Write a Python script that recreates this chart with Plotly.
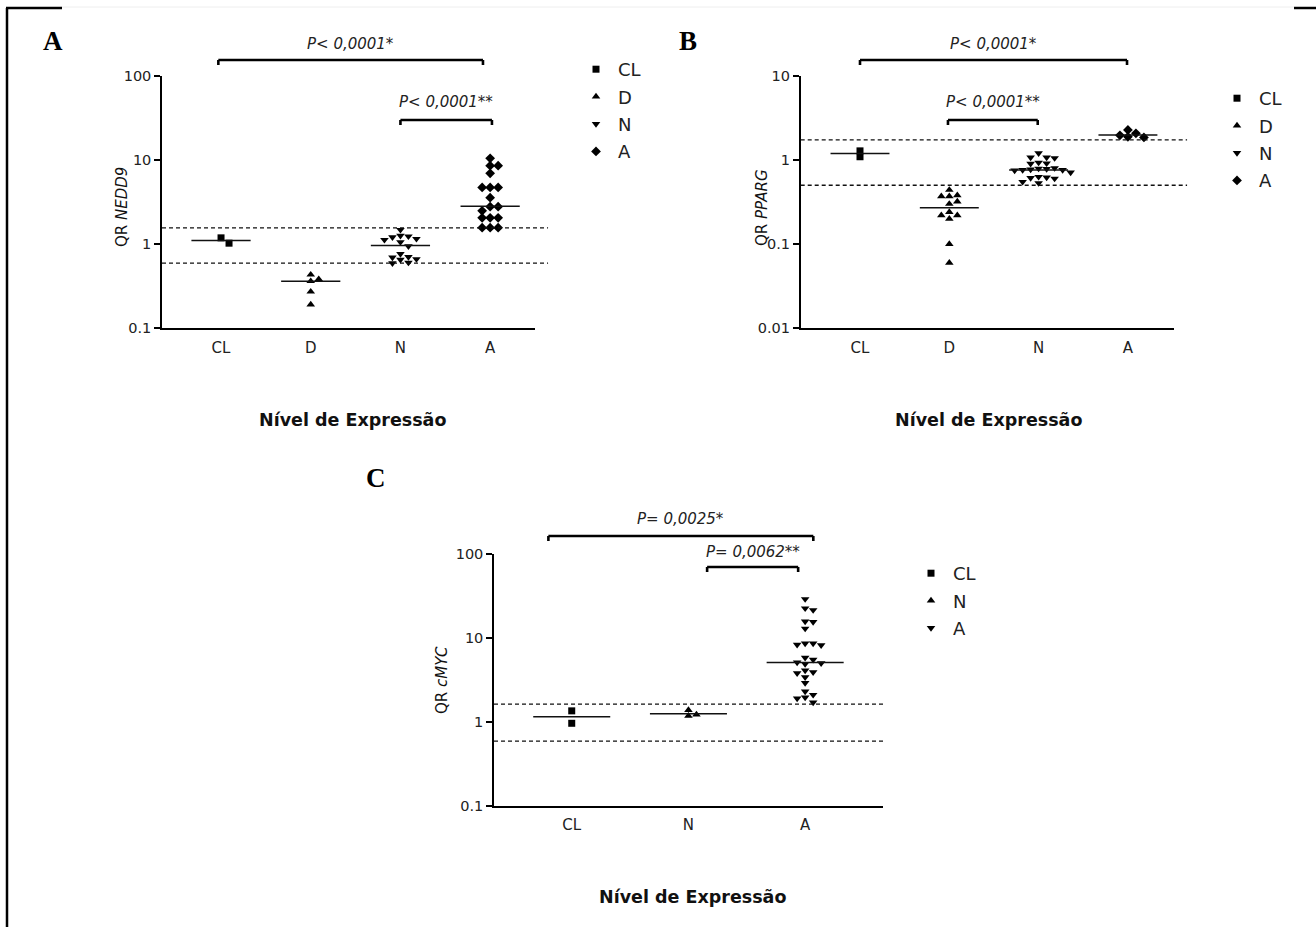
import numpy as np
import plotly.graph_objects as go

W, H = 1316, 927

# ---------------- data ----------------
# Panel A : QR NEDD9
a_cats = ["CL", "D", "N", "A"]
a_CL = [1.02, 1.18]
a_D = [0.43, 0.38, 0.36, 0.27, 0.19]
a_N = [1.47, 1.25, 1.23, 1.20, 1.15, 1.12, 1.05, 0.94, 0.76, 0.70, 0.69, 0.66, 0.65, 0.60, 0.59]
a_A = [10.4, 8.5, 8.5, 6.9, 4.7, 4.7, 4.7, 3.55, 2.77, 2.77, 2.47, 2.04, 2.04, 2.04, 1.56, 1.56, 1.56]
a_medians = [1.10, 0.36, 0.96, 2.80]
a_cutoffs = [1.55, 0.59]
a_ticks = [0.1, 1, 10, 100]
a_ticktext = ["0.1", "1", "10", "100"]

# Panel B : QR PPARG
b_cats = ["CL", "D", "N", "A"]
b_CL = [1.09, 1.28]
b_D = [0.44, 0.38, 0.37, 0.37, 0.32, 0.30, 0.24, 0.22, 0.22, 0.20, 0.10, 0.06]
b_N = [1.20, 1.07, 1.07, 1.05, 0.93, 0.91, 0.90, 0.80, 0.79, 0.78, 0.77, 0.76, 0.76, 0.75,
       0.71, 0.63, 0.62, 0.61, 0.60, 0.55, 0.53]
b_A = [2.27, 2.07, 1.96, 1.88, 1.85]
b_medians = [1.19, 0.27, 0.76, 1.98]
b_cutoffs = [1.73, 0.50]
b_ticks = [0.01, 0.1, 1, 10]
b_ticktext = ["0.01", "0.1", "1", "10"]

# Panel C : QR cMYC
c_cats = ["CL", "N", "A"]
c_CL = [1.35, 0.96]
c_N = [1.38, 1.22, 1.18]
c_A = [29, 22.5, 21.5, 15.7, 15.5, 12.9, 8.6, 8.6, 8.3, 8.2, 5.8, 5.5, 5.1, 5.0, 4.9,
       4.1, 3.9, 3.8, 3.4, 2.9, 2.3, 2.1, 1.95, 1.9, 1.7]
c_medians = [1.15, 1.25, 5.1]
c_cutoffs = [1.62, 0.59]
c_ticks = [0.1, 1, 10, 100]
c_ticktext = ["0.1", "1", "10", "100"]

# p-value brackets: (from category, to category, label)
a_brackets = [("CL", "A", "P< 0,0001*"), ("N", "A", "P< 0,0001**")]
b_brackets = [("CL", "A", "P< 0,0001*"), ("D", "N", "P< 0,0001**")]
c_brackets = [("CL", "A", "P= 0,0025*"), ("N", "A", "P= 0,0062**")]

# ---------------- layout helpers ----------------
def fx(px):
    return px / W

def fy(py):
    return 1 - py / H


def swarm(values, px_per_unit, decade_px=84.0, d=8.0, dy=5.5):
    """simple beeswarm offsets (in category units) computed from the values"""
    ys = np.log10(np.asarray(values, dtype=float)) * decade_px
    order = np.argsort(-ys, kind="stable")
    placed = []
    offs = np.zeros(len(values))
    cands = [0.0]
    for k in range(1, 12):
        cands += [k * d, -k * d]
    for i in order:
        for c in cands:
            if all(not (abs(c - px) < d - 0.01 and abs(ys[i] - py) < dy) for px, py in placed):
                offs[i] = c
                placed.append((c, ys[i]))
                break
    return offs / px_per_unit


panels = [
    dict(ax="", cats=a_cats, groups=[a_CL, a_D, a_N, a_A], med=a_medians, cut=a_cutoffs,
         symbols=["square", "triangle-up", "triangle-down", "diamond"],
         xdom=(162, 535), ydom=(75.7, 328), xr=(-0.658, 3.50), yr=(-1, 2),
         ticks=a_ticks, ticktext=a_ticktext, ppu=89.7, cutext=1.035,
         brackets=a_brackets, br_off=[(-0.03, -0.08), (0.0, 0.02)],
         br_y=[(328 - 60) / 252.3, (328 - 120) / 252.3], br_t=5 / 252.3,
         txt_y=[(328 - 44) / 252.3, (328 - 102) / 252.3],
         legend="legend", leg=(574, 51),
         ytitle="QR <i>NEDD9</i>", ytitle_pos=(122, 207),
         xtitle_pos=(352, 420), letter="A", letter_pos=(53, 41)),
    dict(ax="2", cats=b_cats, groups=[b_CL, b_D, b_N, b_A], med=b_medians, cut=b_cutoffs,
         symbols=["square", "triangle-up", "triangle-down", "diamond"],
         xdom=(800.7, 1174), ydom=(75.7, 328.3), xr=(-0.664, 3.516), yr=(-2, 1),
         ticks=b_ticks, ticktext=b_ticktext, ppu=89.3, cutext=1.035,
         brackets=b_brackets, br_off=[(0.0, -0.01), (-0.015, -0.01)],
         br_y=[(328.3 - 60) / 252.6, (328.3 - 120) / 252.6], br_t=5 / 252.6,
         txt_y=[(328.3 - 44) / 252.6, (328.3 - 102) / 252.6],
         legend="legend2", leg=(1215, 80),
         ytitle="QR <i>PPARG</i>", ytitle_pos=(762, 207),
         xtitle_pos=(988, 420), letter="B", letter_pos=(688, 41)),
    dict(ax="3", cats=c_cats, groups=[c_CL, c_N, c_A], med=c_medians, cut=c_cutoffs,
         symbols=["square", "triangle-up", "triangle-down"],
         xdom=(494, 883), ydom=(554, 805.7), xr=(-0.666, 2.667), yr=(-1, 2),
         ticks=c_ticks, ticktext=c_ticktext, ppu=116.7, cutext=1.0,
         brackets=c_brackets, br_off=[(-0.2, 0.07), (0.16, -0.06)],
         br_y=[(805.7 - 536) / 251.7, (805.7 - 567) / 251.7], br_t=5 / 251.7,
         txt_y=[(805.7 - 519) / 251.7, (805.7 - 552) / 251.7],
         legend="legend3", leg=(909, 555),
         ytitle="QR <i>cMYC</i>", ytitle_pos=(442, 680),
         xtitle_pos=(692, 897), letter="C", letter_pos=(376, 478)),
]

fig = go.Figure()
shapes = []
annotations = []
layout = {}

YTICKFONT = dict(family="DejaVu Sans", size=14.5, color="#222")
XTICKFONT = dict(family="DejaVu Sans", size=15, color="#222")
MSIZE = {"square": 7, "triangle-up": 7.5, "triangle-down": 7.5, "diamond": 7.5}

for p in panels:
    xa, ya = "x" + p["ax"], "y" + p["ax"]
    # points
    for i, (cat, vals, sym) in enumerate(zip(p["cats"], p["groups"], p["symbols"])):
        offs = swarm(vals, p["ppu"])
        fig.add_trace(go.Scatter(
            x=i + offs, y=vals, mode="markers", name=cat,
            marker=dict(symbol=sym, size=MSIZE[sym], color="black", line=dict(width=0)),
            xaxis=xa, yaxis=ya, legend=p["legend"],
            legendgroup=p["legend"] + cat, showlegend=True, cliponaxis=False))
    # median lines
    mx, my = [], []
    for i, m in enumerate(p["med"]):
        mx += [i - 0.33, i + 0.33, None]
        my += [m, m, None]
    fig.add_trace(go.Scatter(x=mx, y=my, mode="lines", line=dict(color="#111", width=1.5),
                             xaxis=xa, yaxis=ya, showlegend=False, hoverinfo="skip"))
    # cutoff dashed lines
    for c in p["cut"]:
        shapes.append(dict(type="line", xref=xa + " domain", yref=ya, x0=0, x1=p["cutext"],
                           y0=c, y1=c, line=dict(color="#111", width=1.3, dash="4px,3px")))
    # brackets
    for (c0, c1, lab), (o0, o1), by, ty in zip(p["brackets"], p["br_off"], p["br_y"], p["txt_y"]):
        x0 = p["cats"].index(c0) + o0
        x1 = p["cats"].index(c1) + o1
        bt = by - p["br_t"]
        for seg in [(x0, bt, x0, by), (x0, by, x1, by), (x1, by, x1, bt)]:
            shapes.append(dict(type="line", xref=xa, yref=ya + " domain",
                               x0=seg[0], y0=seg[1], x1=seg[2], y1=seg[3],
                               line=dict(color="black", width=2.6)))
        annotations.append(dict(xref=xa, yref=ya + " domain", x=(x0 + x1) / 2, y=ty,
                                text="<i>" + lab + "</i>", showarrow=False,
                                font=dict(family="DejaVu Sans", size=15, color="#222"),
                                xanchor="center", yanchor="middle"))
    # axes
    layout["xaxis" + p["ax"]] = dict(
        domain=[fx(p["xdom"][0]), fx(p["xdom"][1])], range=list(p["xr"]),
        anchor=ya, showline=True, linecolor="black", linewidth=1.5, showgrid=False,
        zeroline=False, ticks="", tickvals=list(range(len(p["cats"]))), automargin=False,
        ticktext=p["cats"], tickfont=XTICKFONT, ticklabelstandoff=5, fixedrange=True)
    layout["yaxis" + p["ax"]] = dict(
        domain=[fy(p["ydom"][1]), fy(p["ydom"][0])], type="log", range=list(p["yr"]),
        anchor=xa, showline=True, linecolor="black", linewidth=1.5, showgrid=False,
        zeroline=False, ticks="outside", ticklen=6, tickwidth=1.5, tickcolor="black",
        automargin=False,
        tickvals=p["ticks"], ticktext=p["ticktext"], tickfont=YTICKFONT, fixedrange=True)
    # legend
    layout[p["legend"]] = dict(
        x=fx(p["leg"][0]), y=fy(p["leg"][1]), xanchor="left", yanchor="top",
        font=dict(family="DejaVu Sans", size=18, color="#222"), itemwidth=34,
        bgcolor="rgba(0,0,0,0)", tracegroupgap=1, itemsizing="trace", itemclick=False)
    # titles
    annotations.append(dict(xref="paper", yref="paper", x=fx(p["ytitle_pos"][0]),
                            y=fy(p["ytitle_pos"][1]), text=p["ytitle"], textangle=-90,
                            showarrow=False, font=dict(family="DejaVu Sans", size=15, color="#111"),
                            xanchor="center", yanchor="middle"))
    annotations.append(dict(xref="paper", yref="paper", x=fx(p["xtitle_pos"][0]),
                            y=fy(p["xtitle_pos"][1]), text="<b>Nível de Expressão</b>",
                            showarrow=False, font=dict(family="DejaVu Sans", size=17.5, color="#111"),
                            xanchor="center", yanchor="middle"))
    annotations.append(dict(xref="paper", yref="paper", x=fx(p["letter_pos"][0]),
                            y=fy(p["letter_pos"][1]), text="<b>" + p["letter"] + "</b>",
                            showarrow=False, font=dict(family="Liberation Serif", size=27, color="black"),
                            xanchor="center", yanchor="middle"))

# outer frame fragments
shapes += [
    dict(type="line", xref="paper", yref="paper", x0=fx(7), x1=fx(7), y0=fy(8), y1=fy(927),
         line=dict(color="black", width=2.5)),
    dict(type="line", xref="paper", yref="paper", x0=fx(6), x1=fx(62), y0=fy(8), y1=fy(8),
         line=dict(color="black", width=2.5)),
    dict(type="line", xref="paper", yref="paper", x0=fx(62), x1=fx(1294), y0=fy(7), y1=fy(7),
         line=dict(color="#eeeeee", width=1)),
    dict(type="line", xref="paper", yref="paper", x0=fx(1294), x1=fx(1316), y0=fy(8), y1=fy(8),
         line=dict(color="black", width=2.5)),
]

fig.update_layout(
    width=W, height=H, margin=dict(l=0, r=0, t=0, b=0, pad=0, autoexpand=False),
    paper_bgcolor="white", plot_bgcolor="white",
    shapes=shapes, annotations=annotations, **layout)

fig.write_html("out.html", config={"displayModeBar": False})
